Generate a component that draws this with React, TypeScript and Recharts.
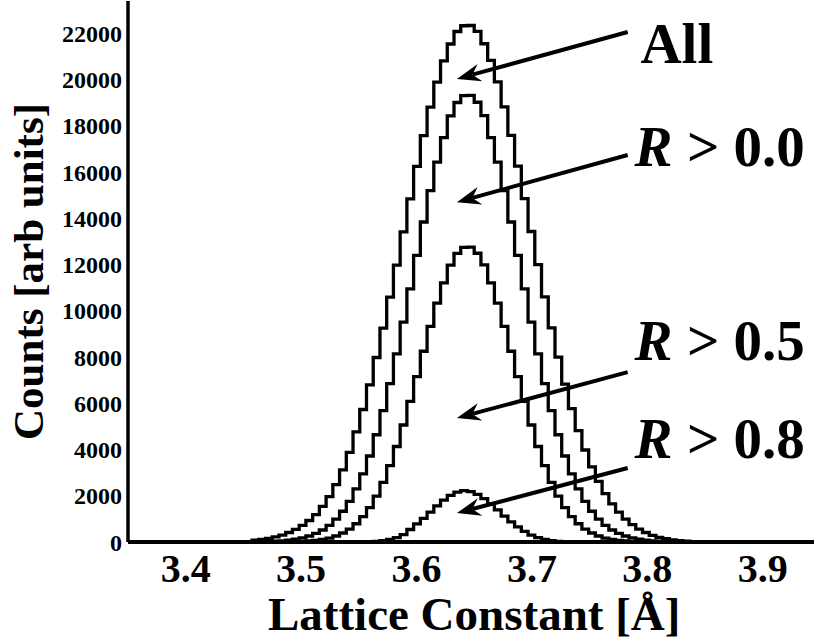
import { LineChart, Line, XAxis, YAxis, ReferenceLine, ReferenceDot } from 'recharts';

const FONT = '"Liberation Serif", "Times New Roman", serif';

// Histogram: 120 bins over 3.30–4.00 Å, only bins 27..91 are occupied
const BIN_WIDTH = 0.7 / 120;
const FIRST_BIN = 27;

const countsAll = [
  80, 110, 160, 220, 300,
  410, 550, 720, 930, 1180,
  1540, 1960, 2480, 3120, 3880,
  4760, 5730, 6800, 7980, 9250,
  10590, 11980, 13410, 14840, 16250,
  17580, 18810, 19890, 20810, 21540,
  22080, 22330, 22340, 22090, 21550,
  20830, 19900, 18820, 17590, 16260,
  14850, 13430, 12000, 10600, 9260,
  8000, 6830, 5770, 4820, 3980,
  3250, 2620, 2090, 1650, 1290,
  990, 750, 560, 410, 290,
  200, 140, 90, 60, 35,
];

const countsR00 = [
  10, 15, 20, 35, 50,
  80, 120, 180, 260, 370,
  520, 720, 990, 1330, 1760,
  2300, 2950, 3720, 4640, 5680,
  6850, 8140, 9510, 10950, 12400,
  13840, 15200, 16430, 17490, 18430,
  19010, 19310, 19320, 19020, 18440,
  17490, 16430, 15200, 13840, 12400,
  10950, 9510, 8140, 6850, 5680,
  4640, 3720, 2950, 2300, 1760,
  1330, 990, 720, 520, 370,
  260, 180, 120, 80, 50,
  35, 20, 15, 10, 5,
];

const countsR05 = [
  0, 0, 0, 5, 5,
  10, 15, 30, 45, 70,
  110, 170, 260, 390, 560,
  790, 1100, 1490, 1980, 2580,
  3300, 4130, 5060, 6080, 7150,
  8250, 9330, 10330, 11210, 11980,
  12480, 12740, 12750, 12490, 11990,
  11210, 10330, 9330, 8250, 7150,
  6080, 5060, 4130, 3300, 2580,
  1980, 1490, 1100, 790, 560,
  390, 260, 170, 110, 70,
  45, 30, 15, 10, 5,
  5, 0, 0, 0, 0,
];

const countsR08 = [
  0, 0, 0, 0, 0,
  0, 0, 0, 0, 0,
  0, 0, 0, 0, 0,
  0, 0, 0, 30, 60,
  110, 190, 320, 540, 780,
  1020, 1290, 1560, 1810, 2020,
  2160, 2220, 2180, 2060, 1880,
  1650, 1390, 1120, 870, 650,
  460, 300, 190, 110, 60,
  30, 0, 0, 0, 0,
  0, 0, 0, 0, 0,
  0, 0, 0, 0, 0,
  0, 0, 0, 0, 0,
];

const xTicks = [3.4, 3.5, 3.6, 3.7, 3.8, 3.9];
const yTicks = [0, 2000, 4000, 6000, 8000, 10000, 12000, 14000, 16000, 18000, 20000, 22000];

// arrow tail -> head, and where each caption sits (data units)
const notes = [
  { text: 'All', tail: [3.783, 22060], head: [3.635, 20030], at: [3.794, 20720] },
  { text: 'R > 0.0', tail: [3.783, 16740], head: [3.635, 14700], at: [3.789, 16260] },
  { text: 'R > 0.5', tail: [3.783, 7350], head: [3.635, 5360], at: [3.789, 7870] },
  { text: 'R > 0.8', tail: [3.783, 3200], head: [3.635, 1250], at: [3.789, 3630] },
];

const edge = (i: number) => +(3.3 + (FIRST_BIN + i) * BIN_WIDTH).toFixed(5);

const rows: { x: number; all: number; r00: number; r05: number; r08: number }[] = [
  { x: 3.35, all: 0, r00: 0, r05: 0, r08: 0 },
];
countsAll.forEach((v, i) => {
  rows.push({ x: edge(i), all: v, r00: countsR00[i], r05: countsR05[i], r08: countsR08[i] });
});
rows.push({ x: edge(countsAll.length), all: 0, r00: 0, r05: 0, r08: 0 });
rows.push({ x: 3.95, all: 0, r00: 0, r05: 0, r08: 0 });

function Arrow(props: any) {
  const { x1, y1, x2, y2 } = props;
  const dx = x2 - x1;
  const dy = y2 - y1;
  const len = Math.hypot(dx, dy) || 1;
  const ux = dx / len;
  const uy = dy / len;
  const px = -uy;
  const py = ux;
  const bx = x2 - ux * 24;
  const by = y2 - uy * 24;
  const nx = x2 - ux * 16;
  const ny = y2 - uy * 16;
  return (
    <g>
      <line x1={x1} y1={y1} x2={nx} y2={ny} stroke="#000" strokeWidth={4} />
      <polygon
        points={`${x2},${y2} ${bx + px * 9},${by + py * 9} ${nx},${ny} ${bx - px * 9},${by - py * 9}`}
        fill="#000"
      />
    </g>
  );
}

function Caption({ cx, cy, text }: any) {
  const italic = text.startsWith('R ');
  return (
    <text x={cx} y={cy} fontFamily={FONT} fontWeight="bold" fontSize={57} fill="#000">
      {italic ? (
        <>
          <tspan fontStyle="italic">R</tspan>
          {text.slice(1)}
        </>
      ) : (
        text
      )}
    </text>
  );
}

const tickFont = { fontFamily: FONT, fontWeight: 'bold', fill: '#000' };

export default function App() {
  return (
    <div style={{ position: 'fixed', left: 0, top: 0, width: 814, height: 640, overflow: 'hidden', background: '#fff' }}>
      <LineChart width={850} height={640} data={rows} margin={{ top: 1, right: 29.6, bottom: 38, left: 68 }}>
        <XAxis
          dataKey="x"
          type="number"
          domain={[3.35, 3.95]}
          ticks={xTicks}
          interval={0}
          height={60}
          tickSize={0}
          tickMargin={12}
          tickLine={false}
          axisLine={{ stroke: '#000', strokeWidth: 4 }}
          tick={{ ...tickFont, fontSize: 40 }}
          label={{
            value: 'Lattice Constant [Å]',
            position: 'bottom',
            offset: -5,
            fontFamily: FONT,
            fontWeight: 'bold',
            fontSize: 47,
            fill: '#000',
          }}
        />
        <XAxis
          xAxisId="top"
          orientation="top"
          dataKey="x"
          type="number"
          domain={[3.35, 3.95]}
          height={0}
          tick={false}
          tickLine={false}
          axisLine={{ stroke: '#000', strokeWidth: 3.5 }}
        />
        <YAxis
          type="number"
          domain={[0, 23400]}
          ticks={yTicks}
          interval={0}
          width={60}
          tickSize={0}
          tickMargin={6}
          tickLine={false}
          axisLine={{ stroke: '#000', strokeWidth: 3.5 }}
          tick={{ ...tickFont, fontSize: 24 }}
          label={{
            value: 'Counts [arb units]',
            angle: -90,
            position: 'left',
            offset: 40,
            fontFamily: FONT,
            fontWeight: 'bold',
            fontSize: 43,
            fill: '#000',
            style: { textAnchor: 'middle' },
          }}
        />
        <Line dataKey="all" type="stepAfter" stroke="#000" strokeWidth={3.3} dot={false} isAnimationActive={false} />
        <Line dataKey="r00" type="stepAfter" stroke="#000" strokeWidth={3.3} dot={false} isAnimationActive={false} />
        <Line dataKey="r05" type="stepAfter" stroke="#000" strokeWidth={3.3} dot={false} isAnimationActive={false} />
        <Line dataKey="r08" type="stepAfter" stroke="#000" strokeWidth={3.3} dot={false} isAnimationActive={false} />
        {notes.map((n) => (
          <ReferenceLine
            key={'a' + n.text}
            segment={[
              { x: n.tail[0], y: n.tail[1] },
              { x: n.head[0], y: n.head[1] },
            ]}
            stroke="#000"
            shape={Arrow}
          />
        ))}
        {notes.map((n) => (
          <ReferenceDot
            key={'t' + n.text}
            x={n.at[0]}
            y={n.at[1]}
            r={0}
            shape={(p: any) => <Caption cx={p.cx} cy={p.cy} text={n.text} />}
          />
        ))}
      </LineChart>
    </div>
  );
}
